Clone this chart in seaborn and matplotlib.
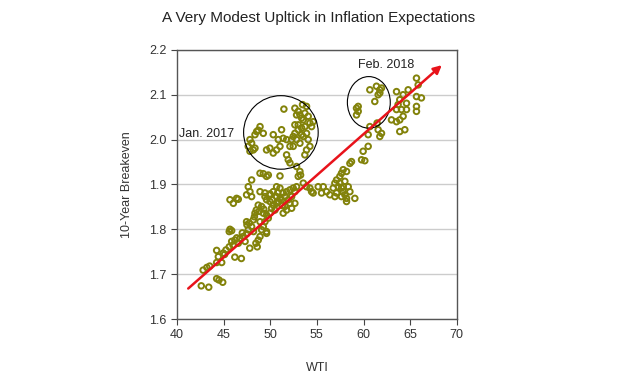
import numpy as np
import pandas as pd
import matplotlib
matplotlib.use("Agg")
import matplotlib.pyplot as plt
import seaborn as sns
from matplotlib.patches import Ellipse

# WTI oil price vs 10-year breakeven inflation
wti = [
    42.6, 43.4, 44.25, 44.5, 44.9, 42.8, 43.2, 43.5,
    44.25, 44.79, 44.43, 44.96, 44.25, 45.25, 45.6, 45.86, 46.0, 46.2, 46.57,
    46.75, 47.1, 47.3, 47.46, 47.64, 47.8, 46.2, 46.9, 45.68, 45.86, 45.6,
    47.46, 47.75, 47.5, 48.0, 48.2, 48.36, 48.5, 48.8, 48.71, 48.9, 48.46, 48.6,
    49.07, 49.25, 49.6, 49.43, 49.79, 49.96, 49.6, 48.9, 48.18,
    50.14, 50.32, 50.68, 50.5, 49.96, 49.6, 49.43, 49.07, 48.71,
    50.68, 51.04, 51.39, 51.21, 51.57, 51.75, 52.11, 52.46, 52.64, 52.82,
    52.29, 51.93, 52.11, 51.57, 51.75, 51.39, 52.29, 52.64,
    47.64, 48.0, 47.82, 47.46, 45.68, 46.04, 46.39, 46.57,
    48.9, 49.25, 49.6, 49.79, 48.0, 51.04, 50.68, 51.04, 50.32,
    48.9, 49.43, 49.96, 49.25, 49.6,
    52.82, 53.18, 53.25, 53.0, 53.54, 53.89, 54.25, 54.43, 54.6,
    50.2, 50.9, 51.3, 50.0, 49.3, 48.3, 47.0, 46.4, 45.1, 50.8,
    # Jan. 2017 cluster
    47.82, 48.0, 47.64, 48.18, 47.82, 48.36, 48.54, 48.9, 48.71, 49.25, 48.36,
    50.32, 49.6, 49.96, 50.32, 50.68, 51.04, 51.21, 51.39, 51.75, 50.86, 51.46,
    51.75, 51.93, 52.11,
    52.64, 53.0, 53.18, 53.36, 53.54, 53.71, 53.89, 53.46, 52.82, 54.07, 54.25,
    54.43, 54.6, 53.71, 53.36, 53.0, 52.64, 52.46, 52.82, 53.18, 53.54, 53.89,
    54.07, 54.25, 53.89, 53.71, 53.36, 53.0, 52.64, 52.29, 52.11, 52.46,
    # mid cluster near 57
    55.14, 55.68, 55.5, 56.04, 56.39, 56.75, 56.93, 57.11, 57.46, 57.29, 57.64,
    57.82, 58.0, 58.18, 58.18, 57.64, 57.11, 56.93, 57.46, 57.82, 58.54, 59.07,
    58.36, 58.0, 57.64, 57.82, 58.18, 58.54, 58.71,
    59.79, 60.14, 59.96, 60.5, 60.5, 60.68, 61.57, 61.75, 61.93, 61.46,
    # Feb. 2018 cluster
    59.25, 59.43, 59.25, 59.43, 60.68, 61.21, 61.57, 61.75, 61.39, 61.93, 61.75,
    # upper right
    63.0, 63.54, 63.89, 64.25, 64.43, 63.89, 64.61, 64.07, 63.54, 63.71, 63.89,
    64.25, 64.79, 63.54, 65.68, 65.86, 65.68, 65.68, 65.68, 66.21, 64.61,
]
breakeven = [
    1.674, 1.671, 1.690, 1.687, 1.682, 1.709, 1.715, 1.718,
    1.726, 1.726, 1.739, 1.747, 1.753, 1.754, 1.761, 1.773, 1.765, 1.776, 1.769,
    1.780, 1.784, 1.773, 1.790, 1.799, 1.758, 1.738, 1.735, 1.800, 1.797, 1.795,
    1.817, 1.814, 1.810, 1.806, 1.795, 1.836, 1.843, 1.840, 1.776, 1.784, 1.769, 1.761,
    1.799, 1.806, 1.795, 1.817, 1.825, 1.836, 1.791, 1.817, 1.821,
    1.847, 1.854, 1.858, 1.843, 1.862, 1.866, 1.873, 1.851, 1.854,
    1.873, 1.869, 1.881, 1.866, 1.873, 1.884, 1.888, 1.892, 1.884, 1.895,
    1.873, 1.866, 1.858, 1.851, 1.843, 1.836, 1.847, 1.858,
    1.895, 1.873, 1.884, 1.877, 1.866, 1.858, 1.869, 1.867,
    1.925, 1.924, 1.918, 1.921, 1.910, 1.919, 1.895, 1.892, 1.884,
    1.884, 1.881, 1.879, 1.836, 1.832,
    1.940, 1.929, 1.921, 1.918, 1.903, 1.895, 1.892, 1.884, 1.881,
    1.866, 1.862, 1.853, 1.877, 1.845, 1.828, 1.792, 1.781, 1.744, 1.882,
    2.000, 1.992, 1.985, 1.977, 1.974, 1.981, 2.018, 2.029, 2.021, 2.014, 2.011,
    2.011, 1.977, 1.981, 1.970, 1.977, 1.985, 2.022, 2.003, 2.000, 2.000, 2.068,
    1.966, 1.955, 1.948,
    2.070, 2.063, 2.055, 2.048, 2.044, 2.059, 2.074, 2.078, 2.055, 2.052, 2.037,
    2.029, 2.040, 2.029, 2.026, 2.022, 2.014, 2.007, 2.000, 1.992, 2.007, 2.014,
    2.000, 1.985, 1.977, 1.966, 2.011, 2.033, 2.033, 2.000, 1.985, 1.985,
    1.895, 1.895, 1.881, 1.884, 1.877, 1.892, 1.903, 1.910, 1.918, 1.895, 1.892,
    1.884, 1.877, 1.869, 1.862, 1.873, 1.881, 1.873, 1.903, 1.895, 1.884, 1.869,
    1.895, 1.907, 1.925, 1.933, 1.929, 1.947, 1.951,
    1.955, 1.953, 1.974, 1.985, 2.011, 2.029, 2.022, 2.007, 2.014, 2.037,
    2.070, 2.063, 2.055, 2.074, 2.111, 2.085, 2.100, 2.111, 2.119, 2.115, 2.104,
    2.044, 2.040, 2.044, 2.052, 2.022, 2.018, 2.067, 2.067, 2.067, 2.078, 2.089,
    2.100, 2.111, 2.107, 2.137, 2.122, 2.096, 2.074, 2.063, 2.093, 2.081,
]

df = pd.DataFrame({"WTI": wti, "Breakeven": breakeven})

sns.set_style("white")
plt.rcParams["font.family"] = ["Liberation Sans", "DejaVu Sans"]
plt.rcParams["text.color"] = "#222222"
plt.rcParams["axes.labelcolor"] = "#333333"

fig = plt.figure(figsize=(6.3, 3.78), dpi=100)
ax = fig.add_axes([0.281, 0.156, 0.444, 0.712])

ax.yaxis.grid(True, color="#cccccc", linewidth=1)
ax.set_axisbelow(True)

sns.scatterplot(data=df, x="WTI", y="Breakeven", ax=ax, marker="o",
                facecolor="none", edgecolor="#82820a", linewidth=1.4, s=16)

# trend arrow
ax.annotate("", xy=(68.4, 2.166), xytext=(41.2, 1.668),
            arrowprops=dict(arrowstyle="-|>", color="#e8131b", lw=1.8,
                            mutation_scale=12, shrinkA=0, shrinkB=0))

# highlight circles
ax.add_patch(Ellipse((51.14, 2.016), 8.0, 0.164, fill=False, edgecolor="black", lw=0.8))
ax.add_patch(Ellipse((60.57, 2.083), 4.6, 0.115, fill=False, edgecolor="black", lw=0.8))
ax.text(40.2, 2.013, "Jan. 2017", fontsize=9, va="center", ha="left")
ax.text(62.4, 2.167, "Feb. 2018", fontsize=9, va="center", ha="center")

ax.set_xlim(40, 70)
ax.set_ylim(1.6, 2.2)
ax.set_xticks(range(40, 71, 5))
ax.set_yticks([1.6, 1.7, 1.8, 1.9, 2.0, 2.1, 2.2])
ax.set_yticklabels(["1.6", "1.7", "1.8", "1.9", "2.0", "2.1", "2.2"])
ax.tick_params(direction="out", length=4, width=0.8, color="#444444",
               labelcolor="#333333", labelsize=9, left=True, bottom=True)
for sp in ax.spines.values():
    sp.set_color("#555555")
    sp.set_linewidth(1)

ax.set_xlabel("WTI", fontsize=9, labelpad=15)
ax.set_ylabel("10-Year Breakeven", fontsize=9, labelpad=12)
fig.text(0.506, 0.952, "A Very Modest Upltick in Inflation Expectations",
         fontsize=11, ha="center", va="center")

fig.savefig("out.png", dpi=100, facecolor="white")
